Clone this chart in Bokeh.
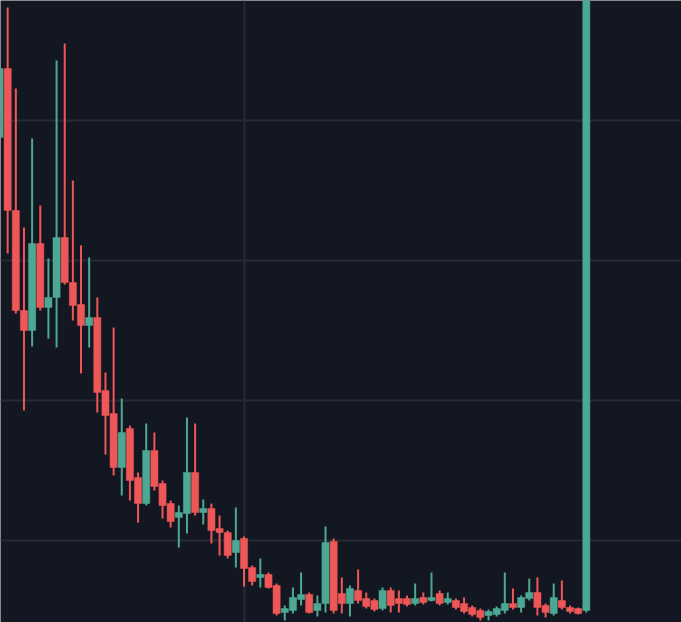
import numpy as np
from bokeh.plotting import figure
from bokeh.models import ColumnDataSource, Range1d, FixedTicker
from bokeh.embed import file_html
from bokeh.resources import INLINE

# Price series (arbitrary price units)
opens = [543, 612, 470, 370, 350, 437, 373, 383, 443, 398,
         376, 355, 363, 290, 267, 213, 252, 203, 177, 230,
         197, 177, 163, 167, 208, 168, 172, 152, 148, 128,
         142, 113, 103, 106, 95, 68, 70, 81, 86, 70,
         77, 139, 87, 77, 90, 82, 80, 72, 90, 82,
         82, 77, 83, 80, 87, 78, 80, 77, 73, 70,
         65, 66, 70, 77, 73, 82, 88, 75, 67, 80,
         73, 72, 70]
highs = [618, 673, 592, 453, 542, 475, 422, 620, 637, 500,
         435, 423, 383, 308, 353, 282, 255, 208, 257, 248,
         200, 180, 175, 263, 257, 181, 177, 165, 150, 173,
         144, 115, 122, 108, 97, 75, 93, 108, 88, 85,
         154, 142, 103, 95, 111, 88, 82, 93, 93, 90,
         85, 97, 88, 108, 90, 88, 82, 83, 75, 72,
         71, 74, 108, 92, 85, 102, 103, 77, 97, 100,
         75, 73, 940]
lows = [540, 427, 367, 270, 334, 370, 342, 333, 396, 360,
        307, 333, 268, 226, 205, 185, 180, 158, 175, 190,
        162, 153, 133, 147, 165, 156, 137, 125, 122, 113,
        94, 95, 93, 92, 65, 60, 67, 75, 67, 64,
        68, 67, 67, 64, 77, 72, 69, 70, 68, 68,
        74, 75, 76, 79, 75, 76, 71, 67, 64, 60,
        60, 64, 67, 71, 68, 80, 65, 63, 65, 71,
        67, 66, 68]
closes = [612, 470, 370, 350, 437, 373, 383, 443, 398, 375,
          355, 363, 288, 265, 213, 248, 200, 177, 230, 194,
          175, 159, 168, 208, 168, 172, 150, 148, 125, 140,
          112, 99, 106, 93, 67, 72, 83, 86, 68, 77,
          138, 70, 77, 92, 80, 74, 71, 90, 75, 77,
          76, 82, 78, 83, 77, 82, 73, 69, 66, 63,
          69, 72, 77, 73, 83, 88, 73, 68, 83, 73,
          69, 67, 930]

grid_prices = [140, 280, 420, 560]
grid_bars = [30]

BG = "#131722"
GRID = "#272b36"
UP = "#4ca893"
DOWN = "#ee5757"

idx = np.arange(len(opens))
o = np.array(opens, dtype=float)
c = np.array(closes, dtype=float)
up = c >= o
src = ColumnDataSource(dict(
    x=idx,
    high=highs,
    low=lows,
    top=np.maximum(o, c),
    bottom=np.minimum(o, c),
    color=[UP if u else DOWN for u in up],
))

p = figure(width=681, height=622, output_backend="svg", toolbar_location=None,
           x_range=Range1d(0.12, 83.68), y_range=Range1d(58, 680),
           background_fill_color=BG, border_fill_color=BG,
           min_border=0, min_border_left=0, min_border_right=0,
           min_border_top=0, min_border_bottom=0)
p.outline_line_color = None
p.xaxis.visible = False
p.yaxis.visible = False
p.xgrid.ticker = FixedTicker(ticks=grid_bars)
p.ygrid.ticker = FixedTicker(ticks=grid_prices)
p.xgrid.grid_line_color = GRID
p.ygrid.grid_line_color = GRID
p.xgrid.grid_line_width = 2
p.ygrid.grid_line_width = 2

p.segment(x0="x", y0="low", x1="x", y1="high", source=src,
          line_color="color", line_width=2)
p.vbar(x="x", width=0.88, top="top", bottom="bottom", source=src,
       fill_color="color", line_color="color", line_width=0.5)

open("out.html", "w").write(file_html(p, INLINE))
